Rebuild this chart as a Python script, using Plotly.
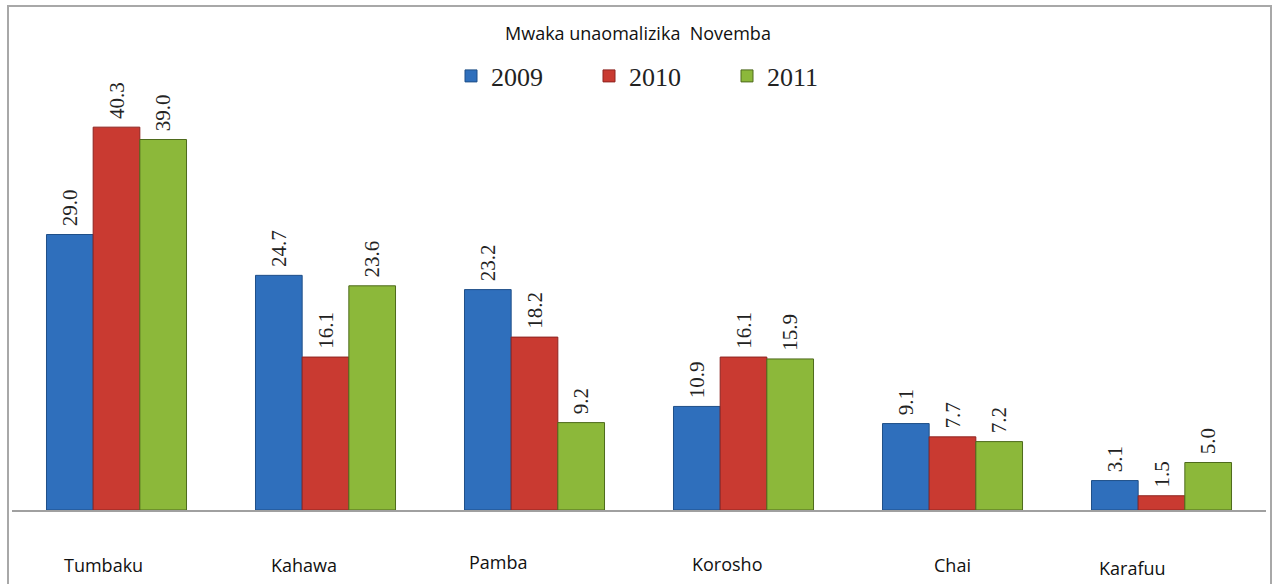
import plotly.graph_objects as go

categories = ["Tumbaku", "Kahawa", "Pamba", "Korosho", "Chai", "Karafuu"]
years = ["2009", "2010", "2011"]
v2009 = [29.0, 24.7, 23.2, 10.9, 9.1, 3.1]
v2010 = [40.3, 16.1, 18.2, 16.1, 7.7, 1.5]
v2011 = [39.0, 23.6, 9.2, 15.9, 7.2, 5.0]
colors = ["#2F6FBC", "#C93A31", "#8CB83A"]
edges = ["#1F4F88", "#8E2420", "#4E6A1C"]
# label placement offsets (pixels) of the category text boxes
label_dx = [-13, -22, -36, -17, 0, -29]
label_dy = [0, 0, 3, 1, 0, -3]

fig = go.Figure()
for name, vals, c, e in zip(years, [v2009, v2010, v2011], colors, edges):
    fig.add_trace(go.Bar(
        name=name, x=categories, y=vals,
        marker=dict(color=c, line=dict(color=e, width=1)),
        text=["\u00A0" + f"{v:.1f}" for v in vals], textposition="outside",
        textangle=-90, cliponaxis=False,
        textfont=dict(family="Liberation Serif", size=21, color="#222"),
    ))

W, H = 1274, 584
L, R, T, B = 12, 8, 8, 74
pw, ph = W - L - R, H - T - B

def py(pix):
    return (H - B - pix) / ph

def px(pix):
    return (pix - L) / pw

annotations = [dict(text="Mwaka unaomalizika  Novemba", xref="paper", yref="paper",
                    x=px(638), y=py(33), xanchor="center", yanchor="middle",
                    showarrow=False,
                    font=dict(family="Open Sans", size=18, color="#111"))]
for cat, dx, dy in zip(categories, label_dx, label_dy):
    annotations.append(dict(text=cat, x=cat, xref="x", yref="paper", y=py(565),
                            xanchor="center", yanchor="middle", showarrow=False,
                            xshift=dx, yshift=dy,
                            font=dict(family="Open Sans", size=18, color="#111")))

fig.update_layout(
    width=W, height=H, barmode="group", bargap=0.33, bargroupgap=0,
    margin=dict(l=L, r=R, t=T, b=B, autoexpand=False),
    paper_bgcolor="white", plot_bgcolor="white",
    legend=dict(orientation="h", x=px(451), xanchor="left", y=py(76),
                yanchor="middle", bgcolor="rgba(0,0,0,0)",
                font=dict(family="Liberation Serif", size=26, color="#222"),
                entrywidth=93, entrywidthmode="pixels",
                itemwidth=30, traceorder="normal"),
    showlegend=True,
    xaxis=dict(showline=True, linecolor="#A0A0A0", linewidth=1.5, ticks="",
               showgrid=False, showticklabels=False),
    yaxis=dict(visible=False, range=[0, (H - B - T) / 9.5]),
    annotations=annotations,
    shapes=[dict(type="rect", xref="paper", yref="paper",
                 x0=px(8), x1=px(1271),
                 y0=py(600), y1=py(6),
                 line=dict(color="#A8A8A8", width=2), layer="below")],
)
fig.write_html("out.html", config={"displayModeBar": False},
               post_script="document.body.style.margin='0';")
